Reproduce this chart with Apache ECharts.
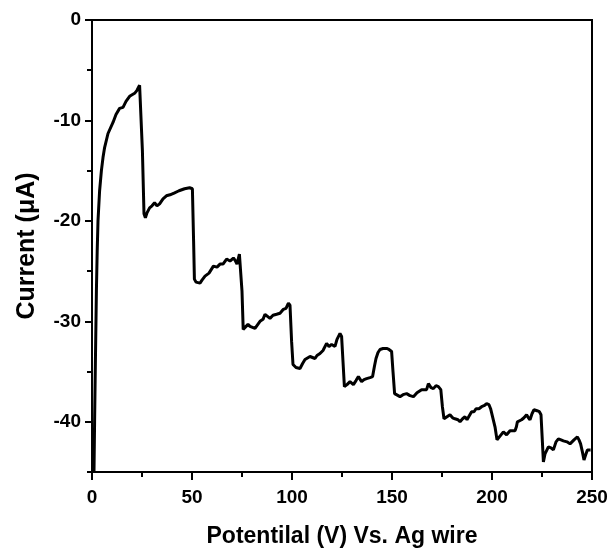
<!DOCTYPE html>
<html>
<head>
<meta charset="utf-8">
<script src="https://cdn.jsdelivr.net/npm/echarts@6/dist/echarts.min.js"></script>
<style>html,body{margin:0;padding:0;background:#fff}#c{width:610px;height:548px}</style>
</head>
<body>
<div id="c"></div>
<script>
const potential = [1.0,1.3,1.7,2.2,2.6,3.0,3.8,4.7,5.5,6.3,8,10.5,12,13.8,15.5,17,18.8,21.3,22.5,23.8,24.5,25.2,26,26.7,27.5,28.8,30,31.3,32.5,33.8,35.5,37.2,39,41.3,43.5,46.3,48.8,50.2,50.8,51.2,52,54,55,56.5,58.5,60.7,62.5,64,65.5,67.3,69,70.7,71.5,72.5,73.7,74.4,75,75.6,76.5,78,79,81.5,84,85.5,86.5,89,90.5,92.3,94,95.7,97,98.2,99.0,99.8,100.5,102,104,105.3,106.5,109,111.5,112.5,114,115.5,117.3,118.5,119.8,121.5,122.5,124,124.8,125.5,126.2,127.5,129,130.7,132,133.2,134.8,136,137.3,139,140.3,141.2,142,143,144,145.5,147.3,148.5,149.8,150.5,151.3,152.3,154,155.5,157.3,159,160.7,162.5,164.8,167.3,168.2,169.5,170.7,172,173.2,174.4,175.2,176,177.5,179,180.3,181.5,183,184,185.3,186.5,187.5,188.2,189.8,191,192,193.5,194.8,196,197.3,198.5,199.3,200.3,201.5,202.5,203.5,204.5,205.7,207.3,209,211.5,212.2,212.7,214.8,216,217.3,218.2,219,220,221,222.5,223.7,224.5,225.2,225.7,226.5,228.2,229.5,230.7,232,233.2,234.5,235.7,237.5,239,241,242.7,243.5,244.3,245.2,246,246.8,247.7,249.3];
const current = [-45,-40,-34,-27,-23,-20,-17,-15,-13.7,-12.7,-11.3,-10.2,-9.4,-8.8,-8.7,-8.1,-7.6,-7.3,-7.0,-6.5,-6.6,-13,-19.3,-19.7,-19.2,-18.7,-18.5,-18.2,-18.5,-18.3,-17.8,-17.5,-17.4,-17.2,-17.0,-16.8,-16.7,-16.8,-22,-25.8,-26.1,-26.2,-25.9,-25.5,-25.2,-24.5,-24.6,-24.3,-24.3,-23.8,-24.0,-23.7,-23.9,-24.3,-23.3,-23.4,-27,-30.8,-30.8,-30.3,-30.5,-30.7,-30.0,-29.8,-29.3,-29.7,-29.4,-29.3,-29.2,-28.8,-28.7,-28.2,-28.4,-32,-34.3,-34.6,-34.7,-34.2,-33.8,-33.5,-33.7,-33.4,-33.2,-32.9,-32.2,-32.5,-32.3,-32.5,-31.8,-31.2,-31.5,-34,-36.5,-36.3,-36.0,-36.3,-35.9,-35.5,-36.0,-35.8,-35.7,-35.6,-35.5,-34.5,-33.7,-33.1,-32.8,-32.7,-32.7,-32.8,-33.0,-35,-37.2,-37.3,-37.5,-37.3,-37.2,-37.4,-37.5,-37.1,-36.8,-36.8,-36.2,-36.6,-36.7,-36.4,-36.5,-36.8,-38.5,-39.7,-39.5,-39.3,-39.6,-39.7,-39.8,-40.0,-39.7,-39.5,-39.8,-39.7,-39.0,-39.0,-38.7,-38.7,-38.5,-38.4,-38.2,-38.3,-38.7,-38.8,-40.5,-41.8,-41.8,-41.3,-41.0,-41.3,-40.9,-40.9,-40.5,-40.0,-39.8,-39.6,-39.3,-39.6,-39.8,-39.2,-38.8,-38.9,-39.0,-39.3,-42,-44.0,-43.2,-42.5,-42.6,-42.8,-42.0,-41.7,-41.8,-41.9,-42.0,-42.2,-41.8,-41.5,-41.8,-42.2,-43.0,-43.8,-43.3,-42.8,-42.8];
const xTicks = [0,50,100,150,200,250];
const yMajor = [0,-10,-20,-30,-40];
const yMinor = [-5,-15,-25,-35,-45];
const xTitle = 'Potentilal (V) Vs. Ag wire';
const yTitle = 'Current (\u03bcA)';

const data = potential.map((v,i)=>[v,current[i]]);
const font = 'Liberation Sans, Arial, sans-serif';
const chart = echarts.init(document.getElementById('c'), null, {renderer:'canvas'});
chart.setOption({
  animation:false,
  grid:{left:92, top:20, right:18, bottom:76, show:true, borderColor:'#000', borderWidth:2, backgroundColor:'transparent', outerBoundsMode:'none', containLabel:false},
  xAxis:{
    type:'value', min:0, max:250, interval:50,
    name:xTitle, nameLocation:'middle', nameGap:53,
    nameTextStyle:{fontFamily:font, fontWeight:'bold', fontSize:23, color:'#000'},
    axisLine:{show:true, onZero:false, lineStyle:{color:'#000', width:2}},
    axisTick:{show:true, length:8, lineStyle:{color:'#000', width:2}},
    minorTick:{show:true, splitNumber:2, length:5, lineStyle:{color:'#000', width:2}},
    axisLabel:{fontFamily:font, fontWeight:'bold', fontSize:19, color:'#000', margin:16,
      formatter:v=>xTicks.includes(v)?String(v):''},
    splitLine:{show:false}, minorSplitLine:{show:false}
  },
  yAxis:[{
    type:'value', min:-45, max:0,
    name:yTitle, nameLocation:'middle', nameGap:52, nameRotate:90,
    nameTextStyle:{fontFamily:font, fontWeight:'bold', fontSize:25, color:'#000'},
    axisLine:{show:true, onZero:false, lineStyle:{color:'#000', width:2}},
    axisTick:{show:true, length:7, customValues:yMajor, lineStyle:{color:'#000', width:2}},
    axisLabel:{fontFamily:font, fontWeight:'bold', fontSize:19, color:'#000', margin:11, customValues:yMajor},
    splitLine:{show:false}
  },{
    type:'value', min:-45, max:0, position:'left',
    axisLine:{show:false, onZero:false},
    axisTick:{show:true, length:5, customValues:yMinor, lineStyle:{color:'#000', width:2}},
    axisLabel:{show:false},
    splitLine:{show:false}
  }],
  series:[{
    type:'line', data:data, showSymbol:false, symbol:'none',
    lineStyle:{color:'#000', width:3}, clip:true
  }]
});
</script>
</body>
</html>
